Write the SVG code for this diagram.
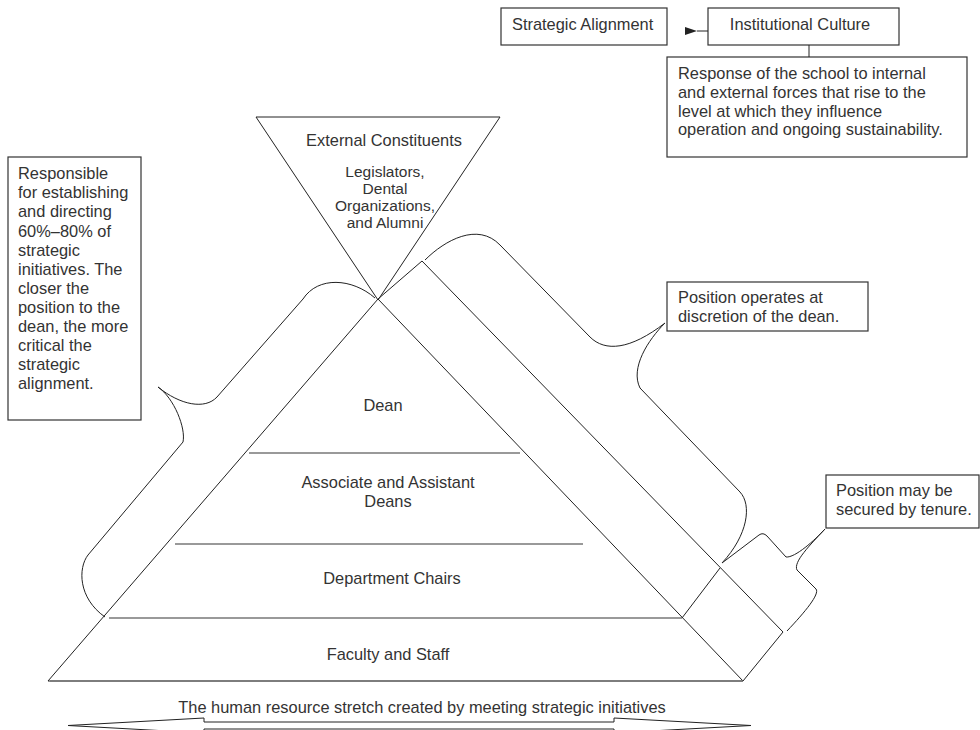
<svg xmlns="http://www.w3.org/2000/svg" width="980" height="730" viewBox="0 0 980 730">
<style>
text{font-family:"Liberation Sans",Arial,Helvetica,sans-serif;font-size:16.4px;fill:#333}
.c{text-anchor:middle}
.sm{font-size:15.5px}
.box{fill:#fff;stroke:#333;stroke-width:1.2}
.ln{fill:none;stroke:#222;stroke-width:1}
.lvl{fill:none;stroke:#777;stroke-width:1.6}
</style>
<defs>
<marker id="ah" viewBox="0 0 12 8" refX="0" refY="4" markerWidth="12" markerHeight="8" markerUnits="userSpaceOnUse" orient="auto-start-reverse">
<path d="M0,4 L12,0 L12,8 Z" fill="#222"/>
</marker>
</defs>
<rect width="980" height="730" fill="#fff"/>

<g id="strategic-alignment">
<rect class="box" x="501" y="8" width="166" height="37"/>
<text x="512" y="30">Strategic Alignment</text>
</g>
<g id="institutional-culture">
<rect class="box" x="708" y="8" width="191" height="37"/>
<text class="c" x="800" y="30">Institutional Culture</text>
</g>
<g id="culture-note">
<rect class="box" x="667" y="57" width="300" height="100"/>
<text x="678" y="79">Response of the school to internal</text>
<text x="678" y="97.5">and external forces that rise to the</text>
<text x="678" y="116.5">level at which they influence</text>
<text x="678" y="135">operation and ongoing sustainability.</text>
</g>
<g id="left-note">
<rect class="box" x="8" y="157" width="133" height="263"/>
<text x="18" y="179.3">Responsible</text>
<text x="18" y="198.4">for establishing</text>
<text x="18" y="217.4">and directing</text>
<text x="18" y="236.5">60%–80% of</text>
<text x="18" y="255.6">strategic</text>
<text x="18" y="274.6">initiatives. The</text>
<text x="18" y="293.7">closer the</text>
<text x="18" y="312.8">position to the</text>
<text x="18" y="331.8">dean, the more</text>
<text x="18" y="350.9">critical the</text>
<text x="18" y="370">strategic</text>
<text x="18" y="389">alignment.</text>
</g>
<g id="external-constituents">
<path class="ln" d="M256,117 L500,117 L378,300 Z"/>
<text class="c" x="384" y="146">External Constituents</text>
<text class="c sm" x="385" y="177">Legislators,</text>
<text class="c sm" x="385" y="194">Dental</text>
<text class="c sm" x="385" y="211">Organizations,</text>
<text class="c sm" x="385" y="228">and Alumni</text>
</g>
<g id="pyramid">
<path class="ln" d="M378,299 L48,681 L743,681 Z"/>
<line class="lvl" x1="249" y1="453" x2="520" y2="453"/>
<line class="lvl" x1="175" y1="544" x2="583" y2="544"/>
<line class="lvl" x1="109" y1="618" x2="682" y2="618"/>
<line class="lvl" x1="50" y1="681" x2="743" y2="681"/>
<text class="c" x="383" y="411">Dean</text>
<text class="c" x="388" y="488">Associate and Assistant</text>
<text class="c" x="388" y="507">Deans</text>
<text class="c" x="392" y="584">Department Chairs</text>
<text class="c" x="388" y="660">Faculty and Staff</text>
</g>
<g id="band">
<path class="ln" d="M378,299 L422,261 L783,632 L743,681"/>
<line class="ln" x1="682" y1="618" x2="720" y2="568"/>
</g>
<g id="discretion-note">
<rect class="box" x="667" y="282" width="201" height="49"/>
<text x="678" y="303">Position operates at</text>
<text x="678" y="322">discretion of the dean.</text>
</g>
<g id="tenure-note">
<rect class="box" x="826" y="475" width="153" height="53"/>
<text x="836" y="496">Position may be</text>
<text x="836" y="515">secured by tenure.</text>
</g>
<g id="stretch-arrow">
<text class="c" x="422" y="713">The human resource stretch created by meeting strategic initiatives</text>
<path fill="#fff" stroke="#222" stroke-width="1" d="M68,725.5 L204,718 L204,722 L614,722 L614,718 L751,725.5 L614,733 L614,729 L204,729 L204,733 Z"/>
</g>

<g id="connectors">
<line class="ln" x1="708" y1="31" x2="697" y2="31" marker-end="url(#ah)"/>
<line class="ln" x1="809" y1="45" x2="809" y2="57"/>
<path class="ln" d="M375,298 C352,278 318,276 303,299 L217,397 C205,410 180,405 158,387 C174,398 186,428 183,442 L88,555 C78,568 78,598 105,617"/>
<path class="ln" d="M425,260 C445,240 478,222 500,245 L590,337 C605,352 630,350 665,323 C648,340 630,368 640,388 L740,492 C752,505 748,535 722,563"/>
<path class="ln" d="M722,563 L759,535 Q763,532 767,536 L786,557 C795,558 815,540 825,529 C810,545 793,562 797,570 L816,589 C820,594 805,612 787,631"/>
</g>
</svg>
